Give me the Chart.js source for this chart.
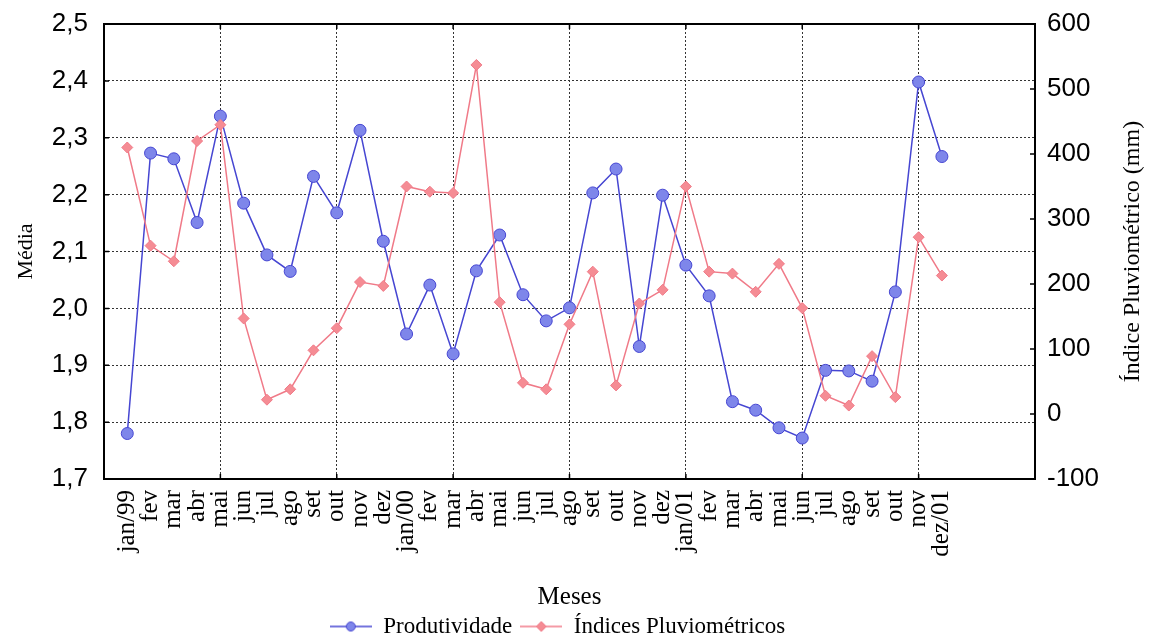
<!DOCTYPE html>
<html>
<head>
<meta charset="utf-8">
<script src="https://cdn.jsdelivr.net/npm/chart.js@4.4.1/dist/chart.umd.min.js"></script>
<style>
html,body{margin:0;padding:0;background:#fff;overflow:hidden;}
#wrap{width:1153px;height:639px;position:relative;}
</style>
</head>
<body>
<div id="wrap"><canvas id="c" width="1153" height="639"></canvas></div>
<script>
const months = ['jan/99','fev','mar','abr','mai','jun','jul','ago','set','out','nov','dez',
  'jan/00','fev','mar','abr','mai','jun','jul','ago','set','out','nov','dez',
  'jan/01','fev','mar','abr','mai','jun','jul','ago','set','out','nov','dez/01'];

const produtividade = [1.780,2.273,2.263,2.151,2.338,2.185,2.094,2.065,2.232,2.168,2.313,2.118,
  1.955,2.041,1.920,2.066,2.129,2.024,1.978,2.001,2.203,2.245,1.933,2.199,
  2.076,2.022,1.836,1.821,1.790,1.772,1.891,1.890,1.872,2.029,2.398,2.267];

const pluviometricos = [410,259,235,420,445,147,22,38,98,132,203,197,
  350,342,340,537,172,48,38,138,219,44,170,191,
  350,219,216,188,231,163,28,13,89,26,272,213];

const leftTicks = [1.7,1.8,1.9,2.0,2.1,2.2,2.3,2.4,2.5];
const rightTicks = [-100,0,100,200,300,400,500,600];

const BLUE_LINE = '#4646d2', BLUE_FILL = '#7e86ea';
const RED_LINE = '#f07a88', RED_FILL = '#f58c94';
const SERIF = "'Liberation Serif', 'DejaVu Serif', serif";
const SANS = "'Liberation Sans', Arial, sans-serif";

function icon(kind){
  const c = document.createElement('canvas');
  c.width = 42; c.height = 14;
  const g = c.getContext('2d');
  g.strokeStyle = kind==='b' ? BLUE_LINE : RED_LINE;
  g.lineWidth = 1.5;
  g.beginPath(); g.moveTo(0,7); g.lineTo(42,7); g.stroke();
  g.fillStyle = kind==='b' ? BLUE_FILL : RED_FILL;
  g.beginPath();
  if(kind==='b'){ g.arc(21,7,4.5,0,Math.PI*2); }
  else { g.moveTo(21,2); g.lineTo(26,7); g.lineTo(21,12); g.lineTo(16,7); g.closePath(); }
  g.fill(); g.lineWidth=1; g.stroke();
  return c;
}
const iconB = icon('b'), iconR = icon('r');

const framePlugin = {
  id:'frame',
  afterLayout(chart){
    if(chart.legend){ chart.legend.left -= 12; chart.legend.right -= 12; }
  },
  afterDraw(chart){
    const {ctx, chartArea:a, scales} = chart;
    ctx.save();
    ctx.strokeStyle = '#000';
    ctx.lineWidth = 2;
    ctx.strokeRect(a.left, a.top, a.right-a.left, a.bottom-a.top);
    ctx.lineWidth = 1.5;
    ctx.beginPath();
    scales.y.ticks.forEach(t=>{ const p = scales.y.getPixelForValue(t.value); ctx.moveTo(a.left,p); ctx.lineTo(a.left+5,p); });
    scales.y1.ticks.forEach(t=>{ const p = scales.y1.getPixelForValue(t.value); ctx.moveTo(a.right,p); ctx.lineTo(a.right-5,p); });
    scales.x.ticks.forEach(t=>{ if((t.value+1)%5===0){ const p = scales.x.getPixelForValue(t.value); ctx.moveTo(p,a.top); ctx.lineTo(p,a.top+5); ctx.moveTo(p,a.bottom); ctx.lineTo(p,a.bottom-5);} });
    ctx.stroke();
    ctx.fillStyle = '#000';
    ctx.font = "24px " + SERIF;
    ctx.textAlign = 'center'; ctx.textBaseline = 'middle';
    ctx.translate(1133, (a.top+a.bottom)/2);
    ctx.rotate(-Math.PI/2);
    ctx.fillText('Índice Pluviométrico (mm)', 0, 0);
    ctx.restore();
  }
};

new Chart(document.getElementById('c'), {
  type:'line',
  data:{
    datasets:[
      {label:'Produtividade', data: produtividade.map((v,i)=>({x:i,y:v})), yAxisID:'y',
       borderColor:BLUE_LINE, backgroundColor:BLUE_FILL, borderWidth:1.5,
       pointRadius:6, pointBorderColor:BLUE_LINE, pointBorderWidth:1, pointBackgroundColor:BLUE_FILL,
       tension:0, order:1},
      {label:'Índices Pluviométricos', data: pluviometricos.map((v,i)=>({x:i,y:v})), yAxisID:'y1',
       borderColor:RED_LINE, backgroundColor:RED_FILL, borderWidth:1.5,
       pointStyle:'rectRot', pointRadius:5.5, pointBorderColor:RED_LINE, pointBorderWidth:1, pointBackgroundColor:RED_FILL,
       tension:0, order:0}
    ]
  },
  options:{
    responsive:false, animation:false,
    layout:{padding:{top:24, left:0, right:0, bottom:-9}},
    plugins:{
      tooltip:{enabled:false},
      legend:{
        position:'bottom', fullSize:false,
        labels:{
          usePointStyle:true, pointStyleWidth:42, padding:8, color:'#000',
          font:{family:SERIF, size:23},
          generateLabels(){ return [
            {text:'Produtividade', pointStyle:iconB, fillStyle:BLUE_FILL, strokeStyle:BLUE_LINE, lineWidth:0, datasetIndex:0, fontColor:'#000'},
            {text:'Índices Pluviométricos', pointStyle:iconR, fillStyle:RED_FILL, strokeStyle:RED_LINE, lineWidth:0, datasetIndex:1, fontColor:'#000'}
          ];}
        }
      }
    },
    scales:{
      x:{
        type:'linear', min:-1, max:39,
        afterBuildTicks(s){ const t=[]; for(let v=-1; v<=39; v++) t.push({value:v}); s.ticks=t; },
        afterFit(s){ s.height = 128; s.paddingLeft = 0; s.paddingRight = 0; },
        ticks:{ autoSkip:false, minRotation:90, maxRotation:90, padding:11, color:'#000',
          font:{family:SERIF, size:25},
          callback:(v)=> (v>=0 && v<months.length) ? months[v] : '' },
        grid:{ drawTicks:false, lineWidth:1, color:(c)=> (c.tick && (c.tick.value+1)%5===0) ? '#333' : 'rgba(0,0,0,0)' },
        border:{display:false, dash:[2,2]},
        title:{display:true, text:'Meses', color:'#000', font:{family:SERIF, size:25}, padding:{top:0,bottom:-5}}
      },
      y:{
        type:'linear', position:'left', min:1.7, max:2.5,
        afterBuildTicks(s){ s.ticks = leftTicks.map(v=>({value:v})); },
        afterFit(s){ s.width = 104; s.paddingTop = 0; s.paddingBottom = 0; },
        ticks:{ padding:16, color:'#000', font:{family:SANS, size:26},
          callback:(v)=> v.toFixed(1).replace('.',',') },
        grid:{ drawTicks:false, color:'#333', lineWidth:1 },
        border:{display:false, dash:[2,2]},
        title:{display:true, text:'Média', color:'#000', font:{family:SERIF, size:22}, padding:{top:13,bottom:0}}
      },
      y1:{
        type:'linear', position:'right', min:-100, max:600,
        afterBuildTicks(s){ s.ticks = rightTicks.map(v=>({value:v})); },
        afterFit(s){ s.width = 118; s.paddingTop = 0; s.paddingBottom = 0; },
        ticks:{ padding:12, color:'#000', font:{family:SANS, size:26} },
        grid:{ display:false, drawTicks:false },
        border:{display:false}
      }
    }
  },
  plugins:[framePlugin]
});
</script>
</body>
</html>
